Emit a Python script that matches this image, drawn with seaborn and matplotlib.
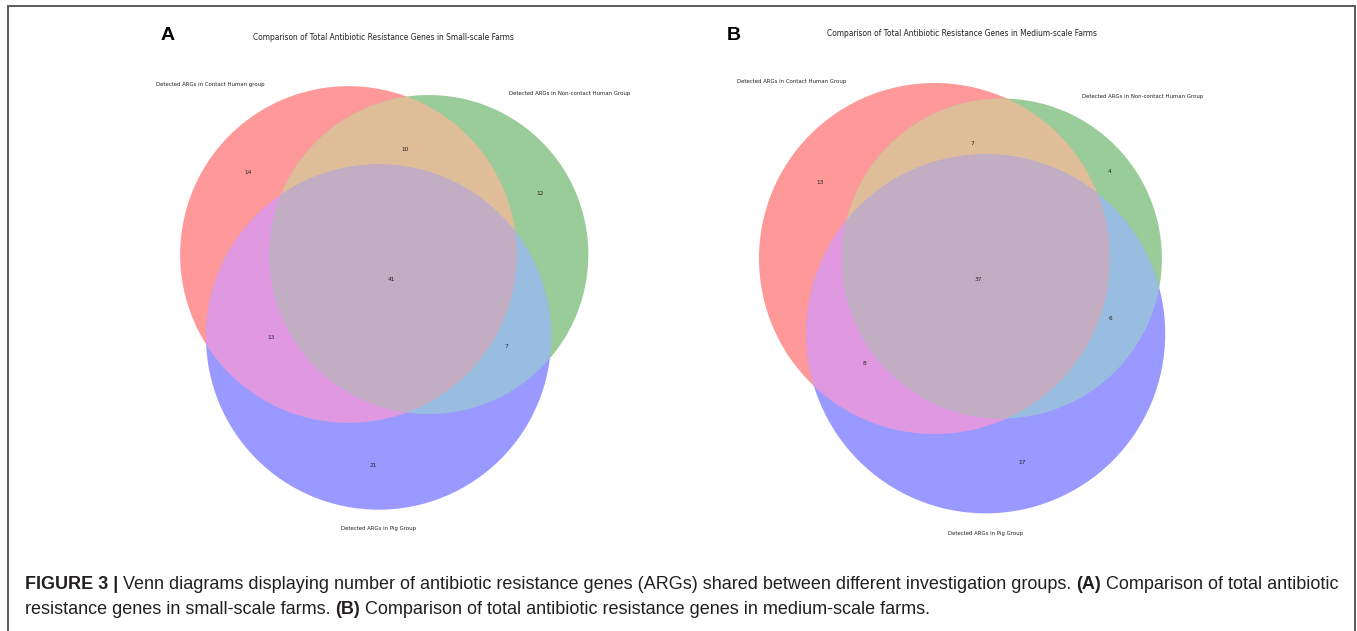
import numpy as np
import matplotlib
matplotlib.use("Agg")
import matplotlib.pyplot as plt
import seaborn as sns
from matplotlib.patches import Circle, Polygon
from matplotlib.lines import Line2D
from matplotlib.colors import to_rgb

# ---------------- data ----------------
# region keys: (in A, in B, in C); A = contact human, B = non-contact human, C = pig
region_keys = ["100", "010", "110", "001", "101", "011", "111"]
small_counts = [14, 12, 10, 21, 13, 7, 41]
medium_counts = [13, 4, 7, 17, 8, 6, 37]
small_set_labels = ["Detected ARGs in Contact Human group",
                    "Detected ARGs in Non-contact Human Group",
                    "Detected ARGs in Pig Group"]
medium_set_labels = ["Detected ARGs in Contact Human Group",
                     "Detected ARGs in Non-contact Human Group",
                     "Detected ARGs in Pig Group"]
panel_titles = ["Comparison of Total Antibiotic Resistance Genes in Small-scale Farms",
                "Comparison of Total Antibiotic Resistance Genes in Medium-scale Farms"]
panel_letters = ["A", "B"]
set_colors = ["#ff0000", "#008000", "#0000ff"]
caption_line1 = [("FIGURE 3 |", True),
                 ("Venn diagrams displaying number of antibiotic resistance genes (ARGs) shared between different investigation groups.", False),
                 ("(A)", True),
                 ("Comparison of total antibiotic", False)]
caption_line2 = [("resistance genes in small-scale farms.", False),
                 ("(B)", True),
                 ("Comparison of total antibiotic resistance genes in medium-scale farms.", False)]

# ---------------- style ----------------
sns.set_theme(style="white")
plt.rcParams["font.family"] = ["DejaVu Sans"]
CAP_FONT = ["Liberation Sans", "DejaVu Sans"]

W, H = 1357, 631
fig = plt.figure(figsize=(W / 100, H / 100), dpi=100)
fig.patch.set_facecolor("white")


def fx(px):
    return px / W


def fy(py):
    return 1 - py / H


# ---------------- venn geometry ----------------
def lens_area(r1, r2, d):
    if d >= r1 + r2:
        return 0.0
    if d <= abs(r1 - r2):
        return np.pi * min(r1, r2) ** 2
    a1 = r1 ** 2 * np.arccos((d * d + r1 * r1 - r2 * r2) / (2 * d * r1))
    a2 = r2 ** 2 * np.arccos((d * d + r2 * r2 - r1 * r1) / (2 * d * r2))
    a3 = 0.5 * np.sqrt((-d + r1 + r2) * (d + r1 - r2) * (d - r1 + r2) * (d + r1 + r2))
    return a1 + a2 - a3


def dist_for_area(r1, r2, area):
    lo, hi = abs(r1 - r2) + 1e-9, r1 + r2
    for _ in range(200):
        mid = (lo + hi) / 2
        if lens_area(r1, r2, mid) > area:
            lo = mid
        else:
            hi = mid
    return (lo + hi) / 2


def venn_layout(counts):
    c = dict(zip(region_keys, counts))
    sizes = [sum(v for k, v in c.items() if k[i] == "1") for i in range(3)]
    radii = np.sqrt(np.array(sizes, float))
    ab = c["110"] + c["111"]
    bc = c["011"] + c["111"]
    ac = c["101"] + c["111"]
    d_ab = dist_for_area(radii[0], radii[1], np.pi * ab)
    d_bc = dist_for_area(radii[1], radii[2], np.pi * bc)
    d_ac = dist_for_area(radii[0], radii[2], np.pi * ac)
    cx = (d_ac ** 2 - d_bc ** 2 + d_ab ** 2) / (2 * d_ab)
    cy = -np.sqrt(max(d_ac ** 2 - cx ** 2, 0))
    centers = np.array([[0.0, 0.0], [d_ab, 0.0], [cx, cy]])
    return centers, radii


def circle_boundary(c, r, n=2880):
    t = np.linspace(0, 2 * np.pi, n, endpoint=False)
    return np.column_stack([c[0] + r * np.cos(t), c[1] + r * np.sin(t)])


def inside(pts, c, r):
    return ((pts[..., 0] - c[0]) ** 2 + (pts[..., 1] - c[1]) ** 2) <= r * r


def intersection_polygon(idx, centers, radii):
    pts = []
    for i in idx:
        b = circle_boundary(centers[i], radii[i])
        m = np.ones(len(b), bool)
        for j in idx:
            if j != i:
                m &= inside(b, centers[j], radii[j])
        pts.append(b[m])
    pts = np.vstack(pts)
    ctr = pts.mean(0)
    order = np.argsort(np.arctan2(pts[:, 1] - ctr[1], pts[:, 0] - ctr[0]))
    return pts[order]


def single_label_pos(i, centers, radii):
    c, r = centers[i], radii[i]
    others = [j for j in range(3) if j != i]
    n = 3600
    b = circle_boundary(c, r, n)
    out = np.ones(n, bool)
    for j in others:
        out &= ~inside(b, centers[j], radii[j])
    starts = np.where(out & ~np.roll(out, 1))[0]
    best, best_len = 0, -1
    for s in starts:
        L = 0
        while L < n and out[(s + L) % n]:
            L += 1
        if L > best_len:
            best, best_len = s, L
    m = b[(best + best_len // 2) % n]
    u = (c - m) / r
    ss = np.linspace(0, r, 4000)
    ray = m[None, :] + ss[:, None] * u[None, :]
    hit = np.zeros(len(ss), bool)
    for j in others:
        hit |= inside(ray, centers[j], radii[j])
    s_hit = ss[np.argmax(hit)] if hit.any() else r
    return m + 0.5 * s_hit * u


def region_label_pos(key, centers, radii):
    members = [i for i in range(3) if key[i] == "1"]
    if len(members) == 1:
        return single_label_pos(members[0], centers, radii)
    lo = (centers - radii[:, None]).min(0)
    hi = (centers + radii[:, None]).max(0)
    xs = np.linspace(lo[0], hi[0], 900)
    ys = np.linspace(lo[1], hi[1], 900)
    X, Y = np.meshgrid(xs, ys)
    P = np.stack([X, Y], -1)
    mask = np.ones(X.shape, bool)
    for i in range(3):
        ins = inside(P, centers[i], radii[i])
        mask &= ins if key[i] == "1" else ~ins
    return np.array([X[mask].mean(), Y[mask].mean()])


def on_white(col, alpha=0.4):
    col = np.asarray(col, float)
    return 1 - alpha * (1 - col)


base_cols = [np.array(to_rgb(c)) for c in set_colors]

# ---------------- panels ----------------
panels = [
    dict(counts=small_counts, set_labels=small_set_labels, title=panel_titles[0],
         letter=panel_letters[0], scale=19.06, anchor=(348.5, 254.5),
         rect=(120, 45, 540, 505), title_xy=(383, 37), letter_xy=(161, 35)),
    dict(counts=medium_counts, set_labels=medium_set_labels, title=panel_titles[1],
         letter=panel_letters[1], scale=21.77, anchor=(934.5, 258.5),
         rect=(690, 45, 560, 505), title_xy=(962, 33), letter_xy=(727, 35)),
]

for p in panels:
    centers, radii = venn_layout(p["counts"])
    x0, y0, w, h = p["rect"]
    k = p["scale"]
    axp, ayp = p["anchor"]
    ax = fig.add_axes([fx(x0), fy(y0 + h), w / W, h / H])
    ax.set_xlim((x0 - axp) / k, (x0 + w - axp) / k)
    ax.set_ylim((ayp - (y0 + h)) / k, (ayp - y0) / k)
    ax.set_axis_off()

    # single sets
    for i in range(3):
        ax.add_patch(Circle(centers[i], radii[i], facecolor=on_white(base_cols[i]),
                            edgecolor="none", zorder=1))
    # pairwise
    for (i, j) in [(0, 1), (0, 2), (1, 2)]:
        col = np.minimum(0.7 * (base_cols[i] + base_cols[j]), 1.0)
        poly = intersection_polygon([i, j], centers, radii)
        ax.add_patch(Polygon(poly, closed=True, facecolor=on_white(col),
                             edgecolor="none", zorder=2))
    # triple
    col = np.minimum(0.4 * (base_cols[0] + base_cols[1] + base_cols[2]), 1.0)
    poly = intersection_polygon([0, 1, 2], centers, radii)
    ax.add_patch(Polygon(poly, closed=True, facecolor=on_white(col),
                         edgecolor="none", zorder=3))

    # subset counts
    for key, val in zip(region_keys, p["counts"]):
        pos = region_label_pos(key, centers, radii)
        ax.text(pos[0], pos[1], str(val), ha="center", va="center",
                fontsize=4.2, color="#222222", zorder=5)

    # set labels
    ax.text(centers[0][0] - 0.5 * radii[0], centers[0][1] + 1.01 * radii[0],
            p["set_labels"][0], ha="right", va="center", fontsize=3.85, color="#222222")
    ax.text(centers[1][0] + 0.5 * radii[1], centers[1][1] + 1.01 * radii[1],
            p["set_labels"][1], ha="left", va="center", fontsize=3.85, color="#222222")
    ax.text(centers[2][0], centers[2][1] - 1.11 * radii[2],
            p["set_labels"][2], ha="center", va="center", fontsize=3.85, color="#222222")

    fig.text(fx(p["title_xy"][0]), fy(p["title_xy"][1]), p["title"],
             ha="center", va="center", fontsize=5.45, color="#222222")
    fig.text(fx(p["letter_xy"][0]), fy(p["letter_xy"][1]), p["letter"],
             ha="left", va="center", fontsize=14, fontweight="bold",
             family=CAP_FONT, color="black")

# ---------------- frame ----------------
frame_col = "#5a5a5a"
for xs_, ys_ in [((8, 8), (631, 6)), ((8, 1355), (6, 6)), ((1355, 1355), (6, 631))]:
    fig.add_artist(Line2D([fx(v) for v in xs_], [fy(v) for v in ys_],
                          transform=fig.transFigure, color=frame_col, lw=1.4))

# ---------------- caption ----------------
fig.canvas.draw()
renderer = fig.canvas.get_renderer()


def text_width(s, size, bold):
    t = fig.text(0, 0, s, fontsize=size, fontweight="bold" if bold else "normal",
                 family=CAP_FONT)
    wd = t.get_window_extent(renderer).width
    t.remove()
    return wd


def line_width(runs, size):
    sp = text_width("a a", size, False) - text_width("aa", size, False)
    return sum(text_width(s, size, b) for s, b in runs) + sp * (len(runs) - 1), sp


ref_size = 12.0
lw1, _ = line_width(caption_line1, ref_size)
cap_size = ref_size * (1336 - 25) / lw1
cap_color = "#231f20"


def draw_runs(runs, x_px, base_px, size):
    _, sp = line_width(runs, size)
    x = x_px
    for s, b in runs:
        t = fig.text(fx(x), fy(base_px), s, fontsize=size,
                     fontweight="bold" if b else "normal", family=CAP_FONT,
                     ha="left", va="baseline", color=cap_color)
        x += t.get_window_extent(renderer).width + sp


draw_runs(caption_line1, 25, 589, cap_size)
draw_runs(caption_line2, 25, 614, cap_size)

fig.savefig("out.png", dpi=100, facecolor="white")
